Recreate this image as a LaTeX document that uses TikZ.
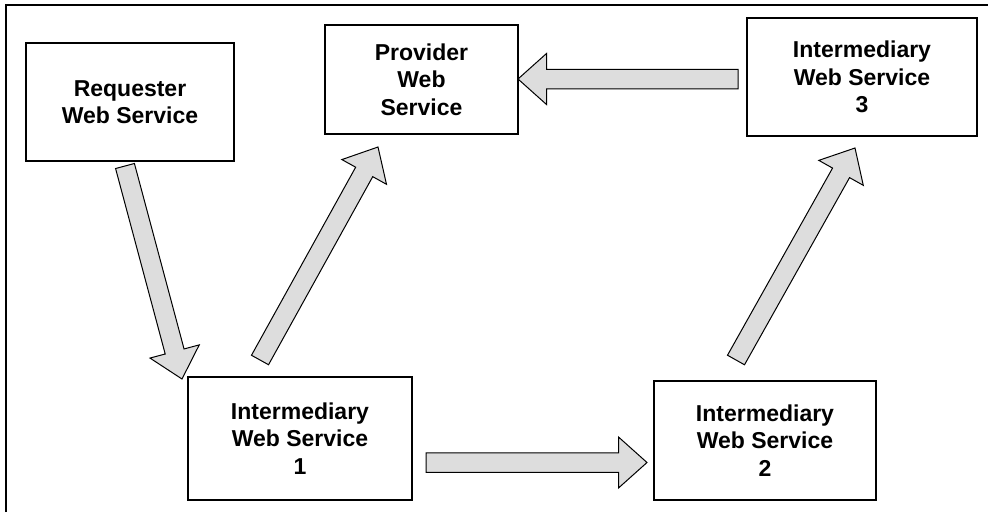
\documentclass[tikz,border=0pt]{standalone}
\usepackage{fontspec}
\setmainfont{Liberation Sans}
\usetikzlibrary{calc}
\definecolor{arrfill}{HTML}{DDDDDD}
\tikzset{
  svcbox/.style={draw=black, line width=2pt, fill=white, inner sep=0pt, align=center,
    font=\fontsize{23}{27.5}\selectfont\bfseries},
  fatarr/.style={draw=black, line width=1pt, fill=arrfill, line join=miter},
  frameline/.style={draw=black, line width=2.5pt}
}
\newcommand\fatarrow[2]{%
  \coordinate (#1-#2-hb) at ($(#2)!28.5pt!(#1)$);
  \draw[fatarr] ($(#1)!9.75pt!-90:(#2)$) -- ($(#1-#2-hb)!9.75pt!-90:(#2)$)
    -- ($(#1-#2-hb)!25.5pt!-90:(#2)$) -- (#2)
    -- ($(#1-#2-hb)!25.5pt!90:(#2)$) -- ($(#1-#2-hb)!9.75pt!90:(#2)$)
    -- ($(#1)!9.75pt!90:(#2)$) -- cycle;
}
\begin{document}
\begin{tikzpicture}[x=1pt,y=-1pt]
\useasboundingbox (0,0) rectangle (988,512);
% frame (only left and top edges visible)
\coordinate (fbl) at (6,512);
\coordinate (ftl) at (6,5);
\coordinate (ftr) at (988,5);
\draw[frameline] (fbl) -- (ftl) -- (ftr);
% boxes
\node[svcbox, minimum width=208pt, minimum height=118pt] (req) at (130,102) {Requester\\Web Service};
\node[svcbox, minimum width=193pt, minimum height=109pt] (prov) at (421.5,79.5) {Provider\\Web\\Service};
\node[svcbox, minimum width=230pt, minimum height=118pt] (int3) at (862,77) {Intermediary\\Web Service\\3};
\node[svcbox, minimum width=224pt, minimum height=123pt] (int1) at (300,438.5) {Intermediary\\Web Service\\1};
\node[svcbox, minimum width=222pt, minimum height=119pt] (int2) at (765,440.5) {Intermediary\\Web Service\\2};
% arrow end points
\coordinate (a1t) at (125,166);  \coordinate (a1h) at (182,379);
\coordinate (a2t) at (260,360);  \coordinate (a2h) at (378,147);
\coordinate (a3t) at (426,462.5);\coordinate (a3h) at (647,462.5);
\coordinate (a4t) at (736,360);  \coordinate (a4h) at (855,148);
\coordinate (a5t) at (738,79);   \coordinate (a5h) at (518,79);
\fatarrow{a1t}{a1h}
\fatarrow{a2t}{a2h}
\fatarrow{a3t}{a3h}
\fatarrow{a4t}{a4h}
\fatarrow{a5t}{a5h}
\end{tikzpicture}
\end{document}
